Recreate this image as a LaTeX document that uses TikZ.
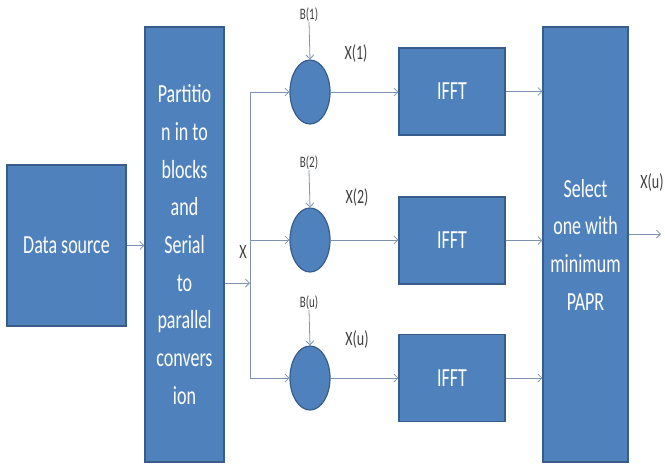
\documentclass[tikz,border=0pt]{standalone}
\usepackage{fontspec}
\setmainfont{Carlito}
\usetikzlibrary{arrows.meta,positioning,shapes.geometric}
\definecolor{boxfill}{HTML}{4F81BD}
\definecolor{boxline}{HTML}{385D8A}
\definecolor{wirecol}{HTML}{7F93B0}
\definecolor{labelgray}{HTML}{3F3F3F}

\begin{document}
\begin{tikzpicture}[x=1pt,y=-1pt,
  block/.style={draw=boxline,line width=1.2pt,fill=boxfill,text=white,yscale=1.45,align=center,font=\fontsize{18}{26}\selectfont,inner sep=0pt},
  mixer/.style={draw=boxline,line width=1.2pt,fill=boxfill,ellipse,minimum width=40pt,minimum height=64pt,inner sep=0pt},
  bigtag/.style={text=labelgray,yscale=1.45,font=\fontsize{14}{16}\selectfont,inner sep=0pt},
  smalltag/.style={text=labelgray,yscale=1.45,font=\fontsize{11}{12}\selectfont,inner sep=0pt},
  wire/.style={draw=wirecol,line width=0.8pt,-{Straight Barb[length=4pt]}}]
  \useasboundingbox (0,0) rectangle (665,464);

  % blocks
  \node[block,minimum width=119pt,minimum height=111pt] (src) at (66.5,245.5) {Data source};
  \node[block,minimum width=79pt,minimum height=300pt] (part) at (184.5,244.5) {Partitio\\n in to\\blocks\\and\\Serial\\to\\parallel\\convers\\ion};
  \node[block,minimum width=85pt,minimum height=300pt] (sel) at (585.5,244.5) {Select\\one with\\minimum\\PAPR};

  \node[mixer] (c1) at (310,92) {};
  \node[mixer] (c2) at (310,240) {};
  \node[mixer] (c3) at (310,378) {};

  \node[block,minimum width=106pt,minimum height=60pt] (f1) at (452,91.5) {IFFT};
  \node[block,minimum width=106pt,minimum height=60pt] (f2) at (452,240.5) {IFFT};
  \node[block,minimum width=106pt,minimum height=60pt] (f3) at (452,378) {IFFT};

  % labels
  \node[smalltag] (b1) at (309,15) {B(1)};
  \node[smalltag] (b2) at (309,163) {B(2)};
  \node[smalltag] (b3) at (309,303) {B(u)};
  \node[bigtag] (x1) at (356,53) {X(1)};
  \node[bigtag] (x2) at (357,197) {X(2)};
  \node[bigtag] (x3) at (357,339) {X(u)};
  \node[bigtag] (xin) at (243,252) {X};
  \node[bigtag] (xout) at (652,182) {X(u)};

  % split point
  \coordinate (j) at (250,283);
  \coordinate (j1) at (250,92);
  \coordinate (j2) at (250,240);
  \coordinate (j3) at (250,378);
  \coordinate (out) at (661,234);

  \draw[wire] (src.east) -- (src.east -| part.west);
  \draw[wire] (part.east |- j) -- (j);
  \draw[draw=wirecol,line width=0.8pt] (j1) -- (j3);
  \draw[wire] (j1) -- (c1.west);
  \draw[wire] (j2) -- (c2.west);
  \draw[wire] (j3) -- (c3.west);
  \draw[wire] (b1.south) -- (c1.north);
  \draw[wire] (b2.south) -- (c2.north);
  \draw[wire] (b3.south) -- (c3.north);
  \foreach \i in {1,2,3} {
    \draw[wire] (c\i.east) -- (f\i.west |- c\i.east);
    \draw[wire] (f\i.east) -- (f\i.east -| sel.west);
  }
  \draw[wire] (sel.east |- out) -- (out);
\end{tikzpicture}
\end{document}
